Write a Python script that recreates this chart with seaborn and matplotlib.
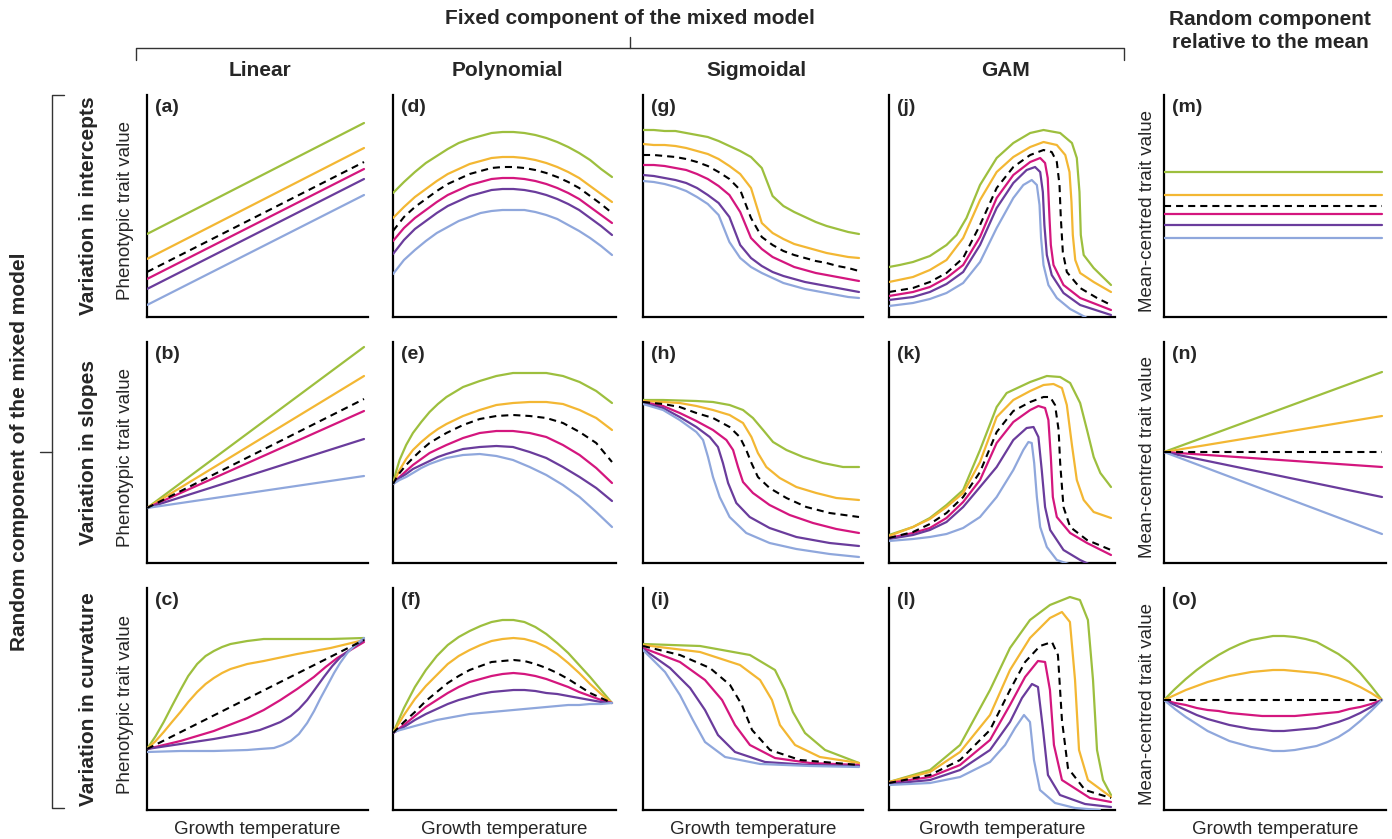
import matplotlib
matplotlib.use("Agg")
import matplotlib.pyplot as plt
import seaborn as sns

sns.set_style("ticks")
plt.rcParams['font.family'] = ['Liberation Sans', 'DejaVu Sans']

# series order inside every panel
SERIES = ["Group 1", "Group 2", "Mean", "Group 3", "Group 4", "Group 5"]
COLORS = ["#9dbf3e", "#f3b733", "black", "#d4167e", "#6a3c9c", "#8fa7dc"]

# ---- row 1: variation in intercepts ----
PANEL_A = [([0, 100], [83, 194]), ([0, 100], [58, 169]), ([0, 100], [45, 155]),
           ([0, 100], [38, 148]), ([0, 100], [28, 138]), ([0, 100], [12, 122])]

GRID_D = [0, 5, 10, 15, 20, 25, 30, 35, 40, 45, 50, 55, 60, 65, 70, 75, 80, 85, 90, 95, 100]
PANEL_D = [(GRID_D, [124, 135, 145, 154, 161, 168, 174, 178, 181, 184, 185, 185, 184, 182, 179, 175, 170, 164, 157, 148, 140]),
           (GRID_D, [99, 110, 120, 128, 136, 143, 148, 153, 156, 159, 160, 160, 159, 157, 154, 150, 145, 139, 131, 123, 115]),
           (GRID_D, [86, 100, 110, 118, 126, 133, 138, 143, 146, 149, 150, 150, 149, 147, 144, 140, 135, 129, 121, 113, 104]),
           (GRID_D, [76, 89, 99, 107, 115, 122, 127, 132, 135, 138, 139, 139, 138, 136, 133, 129, 124, 118, 110, 102, 94]),
           (GRID_D, [63, 77, 88, 96, 104, 111, 116, 121, 124, 127, 128, 128, 127, 125, 122, 118, 113, 107, 99, 91, 82]),
           (GRID_D, [43, 57, 67, 76, 84, 90, 96, 100, 104, 106, 107, 107, 107, 105, 102, 98, 92, 86, 79, 71, 62])]

GRID_G = [0, 5, 10, 15, 20, 25, 30, 35, 40, 45, 50, 55, 60, 65, 70, 75, 80, 85, 90, 95, 100]
PANEL_G = [(GRID_G, [187, 187, 186, 186, 184, 182, 180, 176, 171, 166, 160, 149, 121, 111, 105, 100, 95, 91, 88, 85, 83]),
           (GRID_G, [173, 172, 172, 171, 169, 166, 163, 158, 151, 143, 129, 94, 84, 78, 73, 70, 67, 64, 62, 60, 59]),
           (GRID_G, [162, 162, 161, 160, 158, 155, 151, 145, 138, 127, 99, 80, 72, 66, 62, 59, 56, 54, 51, 49, 46]),
           (GRID_G, [152, 152, 151, 149, 147, 143, 138, 131, 122, 105, 79, 68, 60, 55, 50, 47, 44, 42, 40, 38, 36]),
           (GRID_G, [142, 141, 139, 137, 134, 129, 122, 114, 100, 72, 59, 51, 45, 41, 38, 35, 33, 31, 29, 27, 25]),
           (GRID_G, [136, 135, 133, 130, 126, 120, 113, 102, 75, 59, 50, 44, 39, 34, 31, 28, 26, 24, 22, 20, 19])]

PANEL_J = [([0, 4.8, 10.8, 18.4, 25.9, 30.4, 34.9, 41.0, 48.5, 56.0, 63.6, 69.6, 77.1, 82.4, 84.6, 85.8, 86.4, 87.7, 92.2, 100],
            [50, 52, 55, 61, 72, 82, 99, 132, 159, 174, 184, 187, 184, 174, 159, 125, 82, 62, 49, 32]),
           ([0, 10.8, 18.4, 25.9, 33.4, 41.0, 48.5, 56.0, 63.6, 69.6, 75.6, 79.4, 81.3, 82.2, 82.8, 83.9, 86.1, 92.2, 100],
            [35, 40, 47, 57, 79, 117, 145, 160, 170, 175, 172, 162, 145, 115, 82, 57, 44, 35, 25]),
           ([0, 10.8, 18.4, 25.9, 33.4, 41.0, 48.5, 56.0, 63.6, 69.6, 73.3, 75.6, 76.8, 77.4, 78.3, 80.1, 86.1, 93.7, 100],
            [25, 29, 35, 44, 59, 92, 129, 150, 162, 167, 165, 155, 132, 99, 65, 45, 29, 19, 12]),
           ([0, 10.8, 18.4, 25.9, 33.4, 41.0, 48.5, 56.0, 63.6, 68.1, 70.3, 71.5, 72.3, 72.9, 74.1, 78.6, 86.1, 100],
            [21, 25, 30, 39, 52, 80, 119, 142, 155, 159, 154, 139, 99, 72, 52, 32, 19, 7]),
           ([0, 10.8, 18.4, 25.9, 33.4, 41.0, 48.5, 56.0, 62.0, 65.8, 68.1, 69.3, 70.0, 71.1, 73.3, 78.6, 86.1, 100],
            [17, 20, 25, 33, 45, 72, 109, 134, 147, 150, 145, 125, 92, 62, 42, 24, 12, 2]),
           ([0, 10.8, 18.4, 25.9, 33.4, 41.0, 48.5, 56.0, 60.5, 64.3, 66.6, 67.8, 68.5, 69.6, 71.8, 75.6, 81.6, 89.2],
            [11, 14, 18, 24, 34, 55, 89, 119, 132, 137, 132, 112, 79, 52, 32, 19, 8, -1])]

PANEL_M = [([0, 100], [145, 145]), ([0, 100], [122, 122]), ([0, 100], [111, 111]),
           ([0, 100], [103, 103]), ([0, 100], [92, 92]), ([0, 100], [79, 79])]

# ---- row 2: variation in slopes ----
PANEL_B = [([0, 100], [55, 216]), ([0, 100], [55, 187]), ([0, 100], [55, 164]),
           ([0, 100], [55, 152]), ([0, 100], [55, 124]), ([0, 100], [55, 87])]

GRID_E = [0, 1.5, 3.0, 6.0, 9.1, 12.9, 16.7, 20.5, 24.4, 32.0, 39.6, 47.2, 54.8, 62.4, 70.0, 77.6, 85.2, 92.8, 100]
PANEL_E = [(GRID_E, [79, 92, 103, 118, 130, 141, 151, 159, 166, 176, 182, 187, 190, 190, 190, 187, 181, 172, 160]),
           (GRID_E, [79, 86, 93, 104, 113, 121, 128, 134, 139, 147, 153, 158, 160, 161, 161, 159, 153, 145, 133]),
           (GRID_E, [79, 85, 90, 98, 105, 113, 120, 125, 130, 138, 144, 147, 148, 147, 145, 140, 131, 120, 101]),
           (GRID_E, [79, 83, 86, 92, 98, 104, 110, 114, 118, 125, 130, 132, 132, 130, 126, 118, 108, 95, 80]),
           (GRID_E, [79, 82, 85, 89, 94, 98, 102, 106, 109, 114, 116, 117, 116, 111, 105, 96, 86, 75, 62]),
           (GRID_E, [79, 81, 83, 86, 90, 95, 99, 102, 105, 108, 109, 107, 103, 96, 88, 78, 66, 51, 36])]

PANEL_H = [([0, 9.3, 24.7, 32.4, 40.1, 46.3, 50.9, 55.6, 60.2, 66.4, 74.1, 83.3, 92.6, 100],
            [163, 163, 162, 161, 158, 153, 145, 133, 121, 113, 106, 100, 96, 96]),
           ([0, 9.3, 17.0, 24.7, 32.4, 40.1, 46.3, 50.2, 53.2, 57.1, 63.3, 71.0, 80.2, 89.5, 100],
            [162, 161, 160, 157, 153, 148, 140, 126, 110, 96, 85, 76, 70, 65, 63]),
           ([0, 9.3, 17.0, 24.7, 32.4, 40.1, 44.8, 47.8, 50.2, 53.2, 58.6, 66.4, 75.6, 86.4, 100],
            [161, 159, 156, 150, 145, 136, 126, 113, 100, 86, 75, 65, 56, 50, 46]),
           ([0, 9.3, 17.0, 24.7, 32.4, 38.6, 41.7, 44.0, 46.3, 50.9, 58.6, 67.9, 78.7, 89.5, 100],
            [161, 157, 150, 142, 133, 123, 113, 96, 81, 70, 58, 48, 40, 34, 30]),
           ([0, 9.3, 17.0, 24.7, 30.9, 34.7, 37.0, 39.4, 43.2, 49.4, 58.6, 71.0, 86.4, 100],
            [160, 155, 146, 136, 126, 116, 100, 80, 60, 46, 35, 26, 20, 17]),
           ([0, 9.3, 17.0, 24.7, 27.8, 30.1, 32.4, 35.5, 40.1, 47.8, 58.6, 71.0, 86.4, 100],
            [159, 153, 143, 131, 123, 106, 86, 66, 46, 30, 20, 14, 9, 6])]

PANEL_K = [([0, 10.8, 18.4, 25.9, 33.4, 41.0, 48.5, 53.0, 63.6, 71.1, 77.1, 81.6, 86.1, 89.2, 92.2, 95.2, 100],
            [28, 36, 45, 58, 73, 113, 156, 170, 181, 187, 186, 180, 160, 133, 106, 90, 76]),
           ([0, 10.8, 18.4, 25.9, 33.4, 41.0, 48.5, 56.0, 63.6, 69.6, 74.1, 77.9, 80.1, 82.4, 84.6, 87.7, 92.2, 100],
            [27, 36, 44, 56, 70, 101, 146, 163, 172, 178, 179, 175, 158, 118, 83, 63, 51, 45]),
           ([0, 10.8, 18.4, 25.9, 33.4, 41.0, 48.5, 56.0, 63.6, 69.6, 72.6, 74.8, 76.4, 77.1, 78.6, 81.6, 89.2, 100],
            [25, 31, 39, 50, 66, 91, 131, 152, 161, 166, 166, 158, 133, 100, 56, 36, 23, 13]),
           ([0, 10.8, 18.4, 25.9, 33.4, 41.0, 48.5, 56.0, 63.6, 67.3, 70.3, 71.8, 72.9, 73.8, 75.6, 81.6, 89.2, 100],
            [25, 30, 35, 45, 61, 83, 120, 141, 153, 157, 155, 143, 106, 66, 46, 30, 20, 8]),
           ([0, 10.8, 18.4, 25.9, 33.4, 41.0, 48.5, 56.0, 62.0, 65.1, 67.3, 68.8, 70.3, 72.6, 78.6, 86.1, 89.9],
            [24, 28, 33, 41, 56, 76, 96, 123, 135, 136, 126, 93, 56, 33, 13, 3, -1]),
           ([0, 10.8, 18.4, 25.9, 33.4, 41.0, 48.5, 56.0, 60.5, 62.8, 64.3, 65.4, 66.6, 68.1, 71.1, 75.6, 80.9],
            [22, 24, 26, 29, 35, 46, 66, 93, 113, 121, 120, 100, 66, 36, 16, 3, -1])]

PANEL_N = [([0, 100], [111, 191]), ([0, 100], [111, 147]), ([0, 100], [111, 111]),
           ([0, 100], [111, 96]), ([0, 100], [111, 66]), ([0, 100], [111, 29])]

# ---- row 3: variation in curvature ----
PANEL_C = [([0, 4, 7.7, 11.5, 15.4, 19, 23.1, 27, 30.8, 34.6, 38.5, 46.2, 53.8, 61.5, 69.2, 84.6, 100],
            [61, 74, 88, 104, 120, 134, 146, 154, 159, 163, 166, 169, 171, 171, 171, 171, 172]),
           ([0, 4, 7.7, 11.5, 15.4, 19, 23.1, 27, 30.8, 34.6, 38.5, 46.2, 53.8, 69.2, 84.6, 100],
            [61, 69, 78, 88, 98, 108, 118, 126, 132, 137, 141, 146, 149, 156, 162, 170]),
           ([0, 100], [61, 170]),
           ([0, 15.4, 30.8, 46.2, 53.8, 61.5, 69.2, 76.9, 82.3, 87.7, 93.8, 100],
            [61, 69, 79, 92, 100, 110, 121, 133, 143, 152, 160, 168]),
           ([0, 15.4, 30.8, 46.2, 52, 56.9, 61.5, 66.2, 70, 73.8, 77.5, 81.5, 85.4, 89.2, 94.6, 100],
            [61, 66, 71, 77, 80, 84, 88, 94, 101, 110, 121, 133, 144, 153, 162, 170]),
           ([0, 15.4, 30.8, 46.2, 52, 58.5, 62.5, 66.2, 70, 73.8, 77, 80, 83, 86.2, 89, 92.3, 96, 100],
            [58, 59, 59, 60, 61, 62, 65, 69, 76, 87, 99, 112, 124, 137, 147, 157, 165, 172])]

GRID_F = [0, 5, 10, 15, 20, 25, 30, 35, 40, 45, 50, 55, 60, 65, 70, 75, 80, 85, 90, 95, 100]
PANEL_F = [(GRID_F, [77, 102, 123, 140, 154, 165, 173, 179, 184, 188, 190, 190, 188, 183, 176, 167, 157, 145, 133, 120, 107]),
           (GRID_F, [77, 95, 111, 124, 135, 146, 154, 160, 165, 169, 171, 172, 171, 168, 163, 156, 147, 137, 126, 116, 107]),
           (GRID_F, [77, 88, 98, 109, 118, 127, 134, 140, 144, 148, 149, 150, 149, 146, 142, 137, 131, 124, 117, 112, 107]),
           (GRID_F, [77, 85, 94, 103, 110, 117, 123, 128, 131, 134, 136, 137, 136, 134, 131, 127, 123, 118, 114, 110, 107]),
           (GRID_F, [77, 83, 90, 96, 101, 106, 110, 113, 116, 118, 119, 120, 120, 119, 117, 116, 114, 112, 110, 108, 107]),
           (GRID_F, [78, 81, 84, 87, 90, 92, 94, 96, 97, 98, 99, 100, 101, 102, 103, 104, 105, 105, 106, 106, 107])]

PANEL_I = [([0, 26.4, 49.5, 61.1, 65.7, 69.4, 75.0, 84.3, 100],
            [166, 164, 155, 140, 120, 98, 77, 60, 47]),
           ([0, 26.4, 44.9, 54.2, 59.7, 63.4, 70.4, 81.9, 100],
            [165, 158, 145, 130, 110, 85, 65, 53, 47]),
           ([0, 17.1, 31.0, 40.3, 45.8, 50.5, 58.8, 72.7, 100],
            [164, 155, 142, 125, 105, 80, 60, 50, 45]),
           ([0, 17.1, 28.7, 36.6, 42.6, 49.5, 61.1, 77.3, 100],
            [162, 148, 130, 110, 85, 65, 52, 47, 45]),
           ([0, 12.5, 21.8, 28.7, 34.7, 42.6, 56.5, 77.3, 100],
            [161, 142, 122, 100, 75, 58, 48, 45, 44]),
           ([0, 10.2, 17.1, 23.1, 28.7, 38.0, 54.2, 77.3, 100],
            [160, 138, 115, 90, 68, 53, 46, 44, 43])]

PANEL_L = [([0, 18.5, 32.0, 45.5, 54.5, 63.5, 72.5, 81.5, 86.0, 89.6, 91.9, 93.7, 96.4, 100],
            [28, 40, 65, 120, 162, 190, 205, 213, 210, 190, 130, 60, 30, 15]),
           ([0, 18.5, 32.0, 45.5, 54.5, 63.5, 72.5, 77.9, 81.5, 83.8, 85.6, 89.6, 100],
            [28, 38, 58, 95, 140, 172, 192, 198, 188, 130, 60, 30, 13]),
           ([0, 18.5, 32.0, 45.5, 54.5, 61.3, 68.0, 73.4, 76.1, 77.9, 80.6, 88.3, 100],
            [27, 35, 50, 80, 120, 148, 164, 168, 155, 90, 42, 20, 12]),
           ([0, 18.5, 32.0, 45.5, 54.5, 61.3, 67.1, 70.3, 72.5, 74.3, 77.9, 90.5, 100],
            [27, 33, 45, 70, 105, 133, 149, 148, 120, 65, 30, 12, 8]),
           ([0, 18.5, 32.0, 45.5, 54.5, 59.9, 64.4, 67.1, 69.4, 71.6, 77.0, 88.3, 100],
            [26, 30, 40, 60, 88, 112, 126, 123, 80, 35, 15, 6, 3]),
           ([0, 18.5, 32.0, 45.5, 52.3, 56.8, 60.8, 63.5, 65.3, 68.0, 74.8, 83.8, 95.0],
            [25, 27, 33, 48, 65, 82, 95, 88, 50, 20, 7, 2, 0])]

GRID_O = [0, 5, 10, 15, 20, 25, 30, 35, 40, 45, 50, 55, 60, 65, 70, 75, 80, 85, 90, 95, 100]
PANEL_O = [(GRID_O, [110, 121, 131, 140, 148, 155, 161, 166, 170, 172, 174, 174, 173, 171, 168, 162, 156, 148, 137, 124, 110]),
           (GRID_O, [110, 115, 120, 124, 128, 131, 134, 136, 138, 139, 140, 140, 139, 138, 137, 135, 132, 128, 123, 117, 110]),
           ([0, 100], [110, 110]),
           (GRID_O, [110, 107, 105, 102, 100, 99, 97, 96, 95, 94, 94, 94, 94, 95, 96, 97, 98, 101, 103, 106, 110]),
           (GRID_O, [110, 105, 100, 95, 91, 88, 85, 83, 81, 80, 79, 79, 80, 81, 82, 85, 88, 92, 97, 103, 110]),
           (GRID_O, [110, 101, 93, 86, 79, 74, 69, 66, 63, 61, 59, 59, 60, 62, 64, 68, 73, 80, 89, 99, 110])]

PANELS = [[PANEL_A, PANEL_D, PANEL_G, PANEL_J, PANEL_M],
          [PANEL_B, PANEL_E, PANEL_H, PANEL_K, PANEL_N],
          [PANEL_C, PANEL_F, PANEL_I, PANEL_L, PANEL_O]]
TAGS = [["(a)", "(d)", "(g)", "(j)", "(m)"],
        ["(b)", "(e)", "(h)", "(k)", "(n)"],
        ["(c)", "(f)", "(i)", "(l)", "(o)"]]
COL_TITLES = ["Linear", "Polynomial", "Sigmoidal", "GAM"]
ROW_TITLES = ["Variation in intercepts", "Variation in slopes", "Variation in curvature"]

# layout in pixels
W, H = 1392, 839
COL_LEFT = [147, 393, 643, 889, 1164]
LINE_END = [364, 612, 859, 1111, 1382]
ROW_TOP = [95, 342, 588]
ROW_BOTTOM = [317, 563, 810]

fig = plt.figure(figsize=(W / 100, H / 100), dpi=100)

# overlay for titles and brackets, in pixel coordinates
ov = fig.add_axes([0, 0, 1, 1])
ov.set_xlim(0, W)
ov.set_ylim(H, 0)
ov.axis("off")

for r in range(3):
    for c in range(5):
        left, right = COL_LEFT[c], LINE_END[c] + 4
        bottom, top = ROW_BOTTOM[r], ROW_TOP[r]
        ax = fig.add_axes([left / W, 1 - bottom / H, (right - left) / W, (bottom - top) / H])
        ax.patch.set_alpha(0)
        for (xs, ys), color, name in zip(PANELS[r][c], COLORS, SERIES):
            if name == "Mean":
                sns.lineplot(x=xs, y=ys, ax=ax, color=color, linewidth=1.5,
                             linestyle=(0, (3.4, 2.4)), sort=False, estimator=None, zorder=4)
            else:
                sns.lineplot(x=xs, y=ys, ax=ax, color=color, linewidth=1.6,
                             sort=False, estimator=None, zorder=3)
        ax.set_xlim(0, 100 * (right - left) / (LINE_END[c] - left))
        ax.set_ylim(0, bottom - top)
        ax.set_xticks([])
        ax.set_yticks([])
        ax.set_xlabel("")
        ax.set_ylabel("")
        for s in ["top", "right"]:
            ax.spines[s].set_visible(False)
        for s in ["left", "bottom"]:
            ax.spines[s].set_linewidth(1.6)
            ax.spines[s].set_color("black")
        ov.text(left + 8, top + 4, TAGS[r][c], ha="left", va="top",
                fontsize=14, fontweight="bold")

    mid = (ROW_TOP[r] + ROW_BOTTOM[r]) / 2
    ov.text(88, mid, ROW_TITLES[r], rotation=90, ha="center", va="center",
            fontsize=15, fontweight="bold")
    ov.text(126, mid + 5, "Phenotypic trait value", rotation=90, ha="center",
            va="center", fontsize=13.5)
    ov.text(1147, mid + 5, "Mean-centred trait value", rotation=90, ha="center",
            va="center", fontsize=13.5)

for c in range(5):
    cx = (COL_LEFT[c] + LINE_END[c] + 4) / 2
    ov.text(cx, 829, "Growth temperature", ha="center", va="center", fontsize=13.5)
    if c < 4:
        ov.text(cx + 3, 70, COL_TITLES[c], ha="center", va="center",
                fontsize=15, fontweight="bold")

ov.text(1270, 31, "Random component\nrelative to the mean", ha="center", va="center",
        fontsize=15, fontweight="bold", linespacing=1.25)
ov.text(630, 18, "Fixed component of the mixed model", ha="center", va="center",
        fontsize=15, fontweight="bold")

# top bracket
ov.plot([136, 136, 1124, 1124], [60, 48, 48, 60], color="#333333", lw=1)
ov.plot([630, 630], [48, 37], color="#333333", lw=1)
# left bracket
ov.plot([64, 52, 52, 64], [95, 95, 808, 808], color="#333333", lw=1)
ov.plot([52, 40], [452, 452], color="#333333", lw=1)
ov.text(20, 452, "Random component of the mixed model", rotation=90, ha="center",
        va="center", fontsize=15, fontweight="bold")

fig.savefig("out.png", dpi=100)
